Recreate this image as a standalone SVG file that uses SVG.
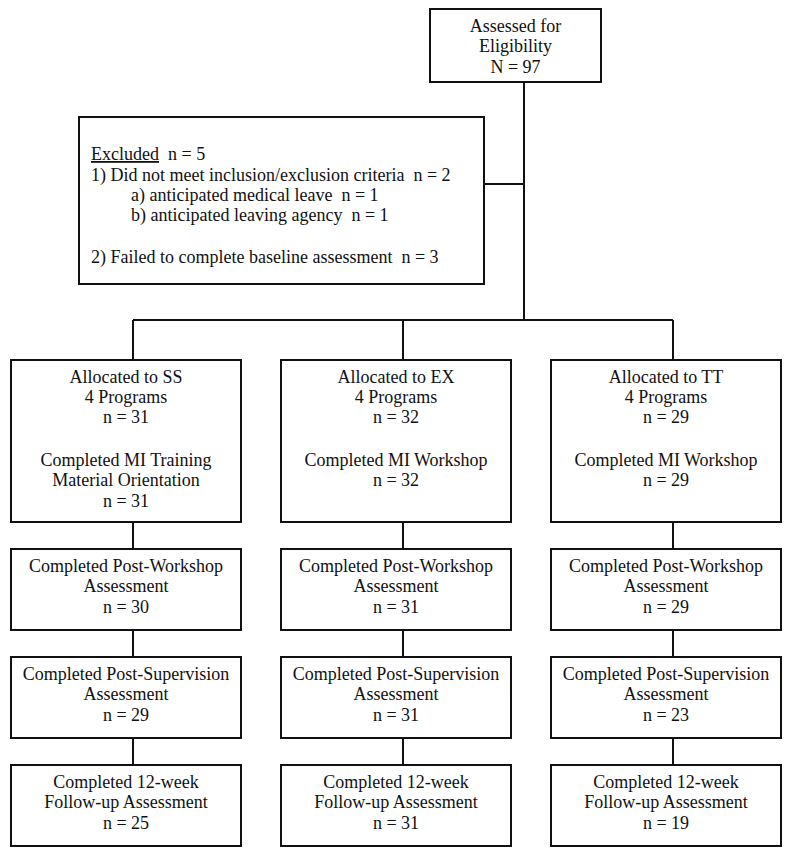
<svg xmlns="http://www.w3.org/2000/svg" width="789" height="854" viewBox="0 0 789 854">
<style>
.box{fill:#fff;stroke:#111;stroke-width:2}
.ln{fill:none;stroke:#111;stroke-width:2}
text{font-family:"Liberation Serif","Times New Roman",serif;font-size:18px;fill:#111}
.c{text-anchor:middle}
</style>
<rect width="789" height="854" fill="#fff"/>
<g id="connectors">
<path class="ln" d="M524 82V320M484 184H524M133 320H673M133 320V360M403 320V360M673 320V360"/>
<path class="ln" d="M133 522V549M133 630V657M133 738V765"/>
<path class="ln" d="M403 522V549M403 630V657M403 738V765"/>
<path class="ln" d="M673 522V549M673 630V657M673 738V765"/>
</g>
<g id="assessed">
<rect class="box" x="430" y="9" width="171" height="73"/>
<text class="c" x="515.5" y="32">Assessed for</text>
<text class="c" x="515.5" y="52">Eligibility</text>
<text class="c" x="515.5" y="73">N = 97</text>
</g>
<g id="excluded">
<rect class="box" x="79" y="117" width="405" height="167"/>
<text x="91" y="160" xml:space="preserve"><tspan text-decoration="underline">Excluded</tspan>  n = 5</text>
<text x="91" y="181" xml:space="preserve">1) Did not meet inclusion/exclusion criteria  n = 2</text>
<text x="131" y="201" xml:space="preserve">a) anticipated medical leave  n = 1</text>
<text x="131" y="221" xml:space="preserve">b) anticipated leaving agency  n = 1</text>
<text x="91" y="263" xml:space="preserve">2) Failed to complete baseline assessment  n = 3</text>
</g>
<g id="ss-alloc">
<rect class="box" x="11" y="360" width="230" height="162"/>
<text class="c" x="126" y="383">Allocated to SS</text>
<text class="c" x="126" y="403">4 Programs</text>
<text class="c" x="126" y="423">n = 31</text>
<text class="c" x="126" y="466">Completed MI Training</text>
<text class="c" x="126" y="486">Material Orientation</text>
<text class="c" x="126" y="507">n = 31</text>
</g>
<g id="ex-alloc">
<rect class="box" x="281" y="360" width="230" height="162"/>
<text class="c" x="396" y="383">Allocated to EX</text>
<text class="c" x="396" y="403">4 Programs</text>
<text class="c" x="396" y="423">n = 32</text>
<text class="c" x="396" y="466">Completed MI Workshop</text>
<text class="c" x="396" y="486">n = 32</text>
</g>
<g id="tt-alloc">
<rect class="box" x="551" y="360" width="230" height="162"/>
<text class="c" x="666" y="383">Allocated to TT</text>
<text class="c" x="666" y="403">4 Programs</text>
<text class="c" x="666" y="423">n = 29</text>
<text class="c" x="666" y="466">Completed MI Workshop</text>
<text class="c" x="666" y="486">n = 29</text>
</g>
<g id="ss-pw">
<rect class="box" x="11" y="549" width="230" height="81"/>
<text class="c" x="126" y="572">Completed Post-Workshop</text>
<text class="c" x="126" y="592">Assessment</text>
<text class="c" x="126" y="613">n = 30</text>
</g>
<g id="ex-pw">
<rect class="box" x="281" y="549" width="230" height="81"/>
<text class="c" x="396" y="572">Completed Post-Workshop</text>
<text class="c" x="396" y="592">Assessment</text>
<text class="c" x="396" y="613">n = 31</text>
</g>
<g id="tt-pw">
<rect class="box" x="551" y="549" width="230" height="81"/>
<text class="c" x="666" y="572">Completed Post-Workshop</text>
<text class="c" x="666" y="592">Assessment</text>
<text class="c" x="666" y="613">n = 29</text>
</g>
<g id="ss-ps">
<rect class="box" x="11" y="657" width="230" height="81"/>
<text class="c" x="126" y="680">Completed Post-Supervision</text>
<text class="c" x="126" y="700">Assessment</text>
<text class="c" x="126" y="721">n = 29</text>
</g>
<g id="ex-ps">
<rect class="box" x="281" y="657" width="230" height="81"/>
<text class="c" x="396" y="680">Completed Post-Supervision</text>
<text class="c" x="396" y="700">Assessment</text>
<text class="c" x="396" y="721">n = 31</text>
</g>
<g id="tt-ps">
<rect class="box" x="551" y="657" width="230" height="81"/>
<text class="c" x="666" y="680">Completed Post-Supervision</text>
<text class="c" x="666" y="700">Assessment</text>
<text class="c" x="666" y="721">n = 23</text>
</g>
<g id="ss-fu">
<rect class="box" x="11" y="765" width="230" height="81"/>
<text class="c" x="126" y="788">Completed 12-week</text>
<text class="c" x="126" y="808">Follow-up Assessment</text>
<text class="c" x="126" y="829">n = 25</text>
</g>
<g id="ex-fu">
<rect class="box" x="281" y="765" width="230" height="81"/>
<text class="c" x="396" y="788">Completed 12-week</text>
<text class="c" x="396" y="808">Follow-up Assessment</text>
<text class="c" x="396" y="829">n = 31</text>
</g>
<g id="tt-fu">
<rect class="box" x="551" y="765" width="230" height="81"/>
<text class="c" x="666" y="788">Completed 12-week</text>
<text class="c" x="666" y="808">Follow-up Assessment</text>
<text class="c" x="666" y="829">n = 19</text>
</g>
</svg>
